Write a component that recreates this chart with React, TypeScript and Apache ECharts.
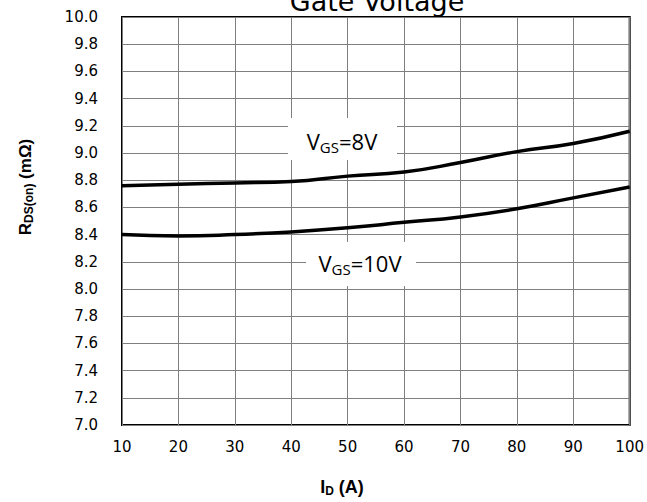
import React, { useEffect, useRef } from "react";
import * as echarts from "echarts";

const currents = [10, 20, 30, 40, 50, 60, 70, 80, 90, 100];
const rdsVgs8 = [8.76, 8.77, 8.78, 8.79, 8.83, 8.86, 8.93, 9.01, 9.07, 9.16];
const rdsVgs10 = [8.4, 8.39, 8.4, 8.42, 8.45, 8.49, 8.53, 8.59, 8.67, 8.75];

const titleText = "Gate Voltage";

export default function App() {
  const ref = useRef<HTMLDivElement>(null);
  useEffect(() => {
    if (!ref.current) return;
    const chart = echarts.init(ref.current, null, { renderer: "svg" });
    const tickFont = { fontFamily: "DejaVu Sans", fontSize: 15, color: "#000" };
    const labelRich = {
      m: { fontFamily: "Open Sans", fontSize: 22, color: "#000" },
      s: { fontFamily: "Open Sans", fontSize: 15, color: "#000", padding: [11, 0, 0, 0] },
    };
    const axisRich = (size: number) => ({
      b: { fontFamily: "Liberation Sans", fontWeight: "bold", fontSize: size, color: "#000" },
      s: { fontFamily: "Liberation Sans", fontWeight: "bold", fontSize: Math.round(size * 0.68), color: "#000", padding: [Math.round(size * 0.45), 0, 0, 0] },
    });
    chart.setOption({
      animation: false,
      backgroundColor: "#fff",
      grid: { left: 122, right: 17, top: 17, bottom: 77, containLabel: false, show: true, borderColor: "#000", borderWidth: 2 },
      xAxis: {
        type: "value",
        min: 10,
        max: 100,
        interval: 10,
        axisLine: { show: false },
        axisTick: { show: false },
        axisLabel: { ...tickFont, margin: 14 },
        splitLine: { show: true, lineStyle: { color: "#7f7f7f", width: 1 } },
      },
      yAxis: {
        type: "value",
        min: 7,
        max: 10,
        interval: 0.2,
        axisLine: { show: false },
        axisTick: { show: false },
        axisLabel: { ...tickFont, margin: 24, formatter: (v: number) => v.toFixed(1) },
        splitLine: { show: true, lineStyle: { color: "#7f7f7f", width: 1 } },
      },
      series: [
        {
          type: "line",
          name: "VGS=8V",
          data: currents.map((x, i) => [x, rdsVgs8[i]]),
          smooth: true,
          symbol: "none",
          lineStyle: { color: "#000", width: 3.5 },
          z: 3,
        },
        {
          type: "line",
          name: "VGS=10V",
          data: currents.map((x, i) => [x, rdsVgs10[i]]),
          smooth: true,
          symbol: "none",
          lineStyle: { color: "#000", width: 3.5 },
          z: 3,
        },
      ],
      graphic: [
        {
          type: "text",
          x: 377,
          y: 1,
          style: { text: titleText, fontFamily: "DejaVu Sans", fontSize: 27, fill: "#000", align: "center", verticalAlign: "middle" },
        },
        {
          type: "rect",
          shape: { x: 288, y: 118, width: 109, height: 42 },
          style: { fill: "#fff" },
          z: 2,
        },
        {
          type: "text",
          x: 342,
          y: 141,
          z: 4,
          style: {
            text: "{m|V}{s|GS}{m|=8V}",
            rich: labelRich,
            align: "center",
            verticalAlign: "middle",
          },
        },
        {
          type: "rect",
          shape: { x: 306, y: 242, width: 110, height: 44 },
          style: { fill: "#fff" },
          z: 2,
        },
        {
          type: "text",
          x: 360,
          y: 263,
          z: 4,
          style: {
            text: "{m|V}{s|GS}{m|=10V}",
            rich: labelRich,
            align: "center",
            verticalAlign: "middle",
          },
        },
        {
          type: "text",
          x: 25,
          y: 187,
          rotation: Math.PI / 2,
          style: {
            text: "{b|R}{s|DS(on)}{b| (mΩ)}",
            rich: axisRich(17),
            align: "center",
            verticalAlign: "middle",
          },
        },
        {
          type: "text",
          x: 342,
          y: 487,
          style: {
            text: "{b|I}{s|D}{b| (A)}",
            rich: axisRich(18),
            align: "center",
            verticalAlign: "middle",
          },
        },
      ],
    });
    return () => chart.dispose();
  }, []);
  return <div ref={ref} style={{ position: "absolute", left: 0, top: 0, width: 647, height: 502 }} />;
}
